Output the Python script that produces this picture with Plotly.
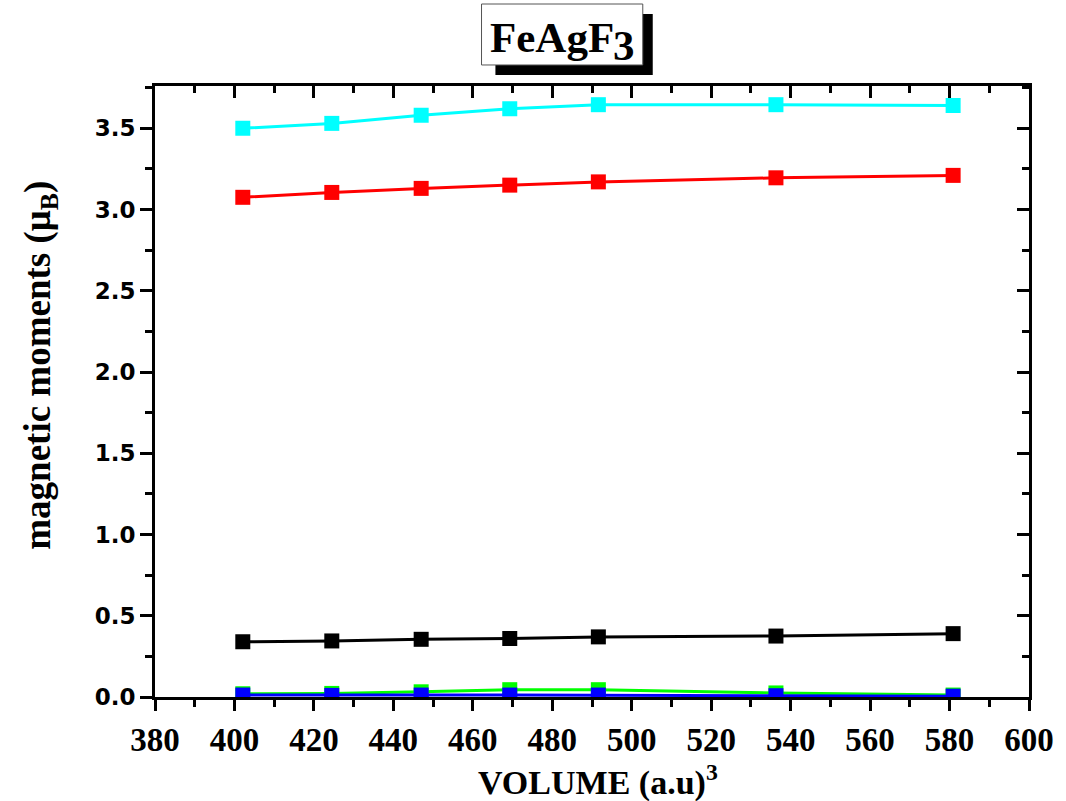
import plotly.graph_objects as go

volume = [402.1, 424.5, 447.0, 469.3, 491.6, 536.3, 580.9]
cyan_vals = [3.50, 3.53, 3.58, 3.62, 3.645, 3.645, 3.64]
red_vals = [3.075, 3.105, 3.13, 3.15, 3.17, 3.195, 3.21]
black_vals = [0.34, 0.345, 0.355, 0.36, 0.37, 0.375, 0.39]
green_vals = [0.02, 0.022, 0.032, 0.045, 0.045, 0.025, 0.012]
blue_vals = [0.012, 0.01, 0.012, 0.012, 0.012, 0.008, 0.005]

series = [
    ("cyan", cyan_vals, "#00FFFF"),
    ("red", red_vals, "#FF0000"),
    ("black", black_vals, "#000000"),
    ("green", green_vals, "#00FF00"),
    ("blue", blue_vals, "#0000FF"),
]

fig = go.Figure()
for name, vals, col in series:
    fig.add_trace(go.Scatter(
        x=volume, y=vals, mode="lines+markers", name=name,
        line=dict(color=col, width=3),
        marker=dict(symbol="square", size=15, color=col),
        showlegend=False,
    ))

# invisible trace for mirrored axes
fig.add_trace(go.Scatter(x=[380], y=[0], xaxis="x2", yaxis="y2",
                         mode="markers", marker=dict(opacity=0), showlegend=False, hoverinfo="skip"))

xtickfont = dict(family="Liberation Serif", size=33, color="black", weight="bold")
ytickfont = dict(family="DejaVu Sans", size=23, color="black", weight="bold")

fig.update_layout(
    width=1066, height=801,
    margin=dict(l=155, r=33, t=86, b=104),
    paper_bgcolor="white", plot_bgcolor="white",
    xaxis=dict(range=[380, 600], dtick=20, tick0=380, ticks="outside", ticklen=11, tickwidth=3,
               tickcolor="black", showline=True, linecolor="black", linewidth=3,
               showgrid=False, zeroline=False, tickfont=xtickfont,
               minor=dict(dtick=10, ticks="outside", ticklen=7, tickwidth=3, tickcolor="black")),
    yaxis=dict(range=[0, 3.76], dtick=0.5, tick0=0, tickformat=".1f", ticks="outside", ticklen=12,
               tickwidth=3, tickcolor="black", showline=True, linecolor="black", linewidth=3,
               showgrid=False, zeroline=False, tickfont=ytickfont,
               minor=dict(dtick=0.25, ticks="outside", ticklen=7, tickwidth=3, tickcolor="black")),
    xaxis2=dict(range=[380, 600], dtick=20, tick0=380, overlaying="x", side="top", anchor="y",
                ticks="inside", ticklen=12, tickwidth=3, tickcolor="black", showline=True,
                linecolor="black", linewidth=3, showgrid=False, zeroline=False, showticklabels=False,
                minor=dict(dtick=10, ticks="inside", ticklen=7, tickwidth=3, tickcolor="black")),
    yaxis2=dict(range=[0, 3.76], dtick=0.5, tick0=0, overlaying="y", side="right", anchor="x",
                ticks="inside", ticklen=12, tickwidth=3, tickcolor="black", showline=True,
                linecolor="black", linewidth=3, showgrid=False, zeroline=False, showticklabels=False,
                minor=dict(dtick=0.25, ticks="inside", ticklen=7, tickwidth=3, tickcolor="black")),
)

# title box with shadow
fig.add_shape(type="rect", xref="paper", yref="paper", x0=0.3895, x1=0.5695, y0=1.018, y1=1.118,
              fillcolor="black", line=dict(width=0), layer="above")
fig.add_shape(type="rect", xref="paper", yref="paper", x0=0.3736, x1=0.5581, y0=1.0344, y1=1.1342,
              fillcolor="white", line=dict(color="#555555", width=1), layer="above")
title_font = dict(family="Liberation Serif", size=43, color="black", weight="bold")
fig.add_annotation(xref="paper", yref="paper", x=0.527, y=1.080, text="FeAgF",
                   showarrow=False, xanchor="right", yanchor="middle", font=title_font)
fig.add_annotation(xref="paper", yref="paper", x=0.522, y=1.066, text="3",
                   showarrow=False, xanchor="left", yanchor="middle", font=title_font)

fig.add_annotation(xref="paper", yref="paper", x=-0.131, y=0.543,
                   text="magnetic moments (μ<sub>B</sub>)", textangle=-90, showarrow=False,
                   xanchor="center", yanchor="middle",
                   font=dict(family="Liberation Serif", size=37, color="black", weight="bold"))
fig.add_annotation(xref="paper", yref="paper", x=0.507, y=-0.137,
                   text="VOLUME (a.u)<sup>3</sup>", showarrow=False,
                   xanchor="center", yanchor="middle",
                   font=dict(family="Liberation Serif", size=34, color="black", weight="bold"))

fig.write_html("out.html")
